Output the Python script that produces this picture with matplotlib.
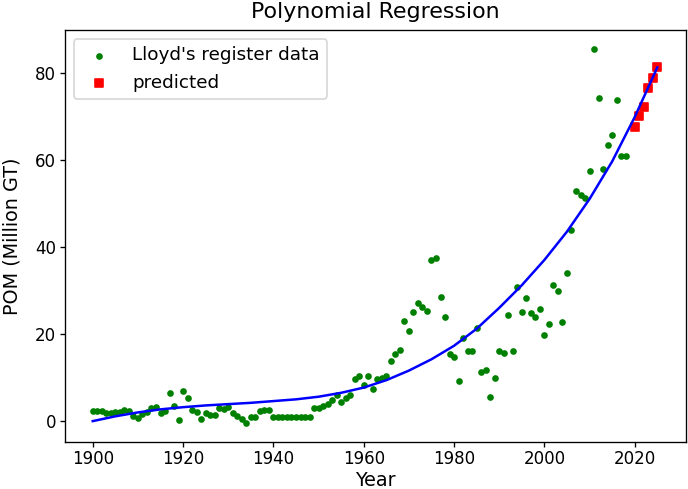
import matplotlib
matplotlib.use("Agg")
import matplotlib.pyplot as plt

# Lloyd's register data
years = list(range(1900, 2019))
pom = [
    2.3, 2.3, 2.3, 1.9, 1.9, 2.0, 2.0, 2.5, 2.3, 1.1,      # 1900-1909
    0.7, 1.6, 2.0, 3.0, 3.2, 1.9, 2.3, 6.5, 3.4, 0.3,      # 1910-1919
    6.9, 5.2, 2.6, 2.0, 0.4, 1.8, 1.5, 1.3, 3.0, 2.8,      # 1920-1929
    3.2, 1.8, 1.2, 0.6, -0.4, 0.9, 0.9, 2.4, 2.6, 2.6,     # 1930-1939
    0.9, 0.9, 0.9, 0.9, 0.9, 0.9, 0.9, 0.9, 0.9, 3.0,      # 1940-1949
    3.0, 3.4, 4.0, 4.75, 6.0, 4.3, 5.2, 6.0, 9.6, 10.4,    # 1950-1959
    8.3, 10.4, 7.3, 9.6, 10.0, 10.4, 13.9, 15.5, 16.4, 23.0,  # 1960-1969
    20.8, 25.1, 27.1, 26.2, 25.2, 37.0, 37.4, 28.6, 23.9, 15.5,  # 1970-1979
    14.7, 9.1, 19.1, 16.1, 16.1, 21.4, 11.2, 11.7, 5.6, 10.0,  # 1980-1989
    16.1, 15.7, 24.4, 16.1, 30.9, 25.1, 28.2, 24.8, 23.9, 25.7,  # 1990-1999
    19.7, 22.2, 31.3, 29.9, 22.7, 34.0, 43.8, 52.9, 51.8, 51.2,  # 2000-2009
    57.4, 85.5, 74.2, 57.8, 63.5, 65.6, 73.8, 60.9, 60.9,        # 2010-2018
]

# predicted values
pred_years = [2020, 2021, 2022, 2023, 2024, 2025]
pred_pom = [67.6, 70.0, 72.0, 76.5, 78.7, 81.2]

# regression curve, read every 5 years
curve_years = [1900, 1905, 1910, 1915, 1920, 1925, 1930, 1935, 1940, 1945,
               1950, 1955, 1960, 1965, 1970, 1975, 1980, 1985, 1990, 1995,
               2000, 2005, 2010, 2015, 2020, 2025]
curve_pom = [0.0, 1.1, 2.0, 2.7, 3.2, 3.6, 3.9, 4.2, 4.6, 5.0,
             5.6, 6.5, 7.7, 9.4, 11.6, 14.2, 17.3, 21.2, 26.0, 31.2,
             37.0, 43.5, 51.0, 59.6, 69.8, 81.2]

fig = plt.figure(figsize=(688 / 120, 489 / 120), dpi=120)
ax = fig.add_axes([0.0938, 0.097, 0.9026, 0.8417])

ax.scatter(years, pom, s=9, color="green", label="Lloyd's register data")
ax.scatter(pred_years, pred_pom, s=25, color="red", marker="s", label="predicted")
ax.plot(curve_years, curve_pom, color="blue")

ax.tick_params(length=3, pad=2, labelsize=10)
ax.set_title("Polynomial Regression", fontsize=13.3, pad=7)
ax.set_xlabel("Year", fontsize=11.5, labelpad=2)
ax.set_ylabel("POM (Million GT)", fontsize=11.5, labelpad=8)
ax.legend(loc="upper left", fontsize=11)

fig.savefig("out.png", dpi=120)
